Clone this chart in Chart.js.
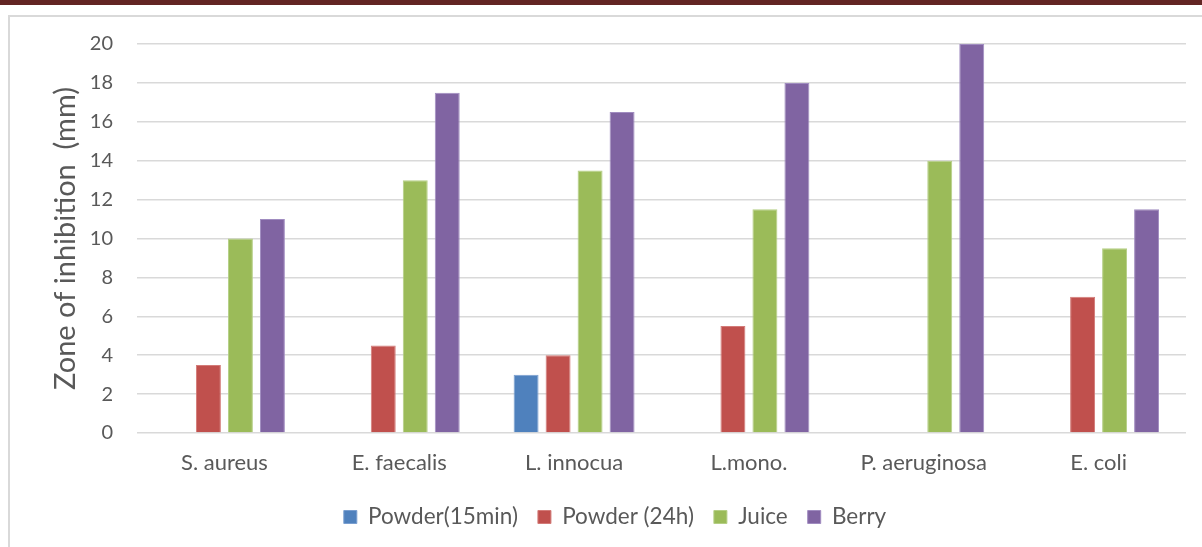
<!DOCTYPE html>
<html>
<head>
<meta charset="utf-8">
<script src="https://cdn.jsdelivr.net/npm/chart.js@4"></script>
<style>
  html, body { margin: 0; padding: 0; background: #ffffff; }
  body { width: 1202px; height: 547px; position: relative; overflow: hidden; }
  #band { position: absolute; left: 0; top: 0; width: 1202px; height: 5px; background: #632523; }
  #frame { position: absolute; left: 8px; top: 15px; width: 1194px; height: 532px;
           border-left: 2px solid #d9d9d9; border-top: 2px solid #d9d9d9; box-sizing: border-box; }
  #wrap { position: absolute; left: 10px; top: 17px; width: 1192px; height: 530px; }
</style>
</head>
<body>
<div id="band"></div>
<div id="frame"></div>
<div id="wrap"><canvas id="c"></canvas></div>
<script>
// Bacterial strains tested
const categories = ['S. aureus', 'E. faecalis', 'L. innocua', 'L.mono.', 'P. aeruginosa', 'E. coli'];

// Zone of inhibition (mm) per treatment; null = no zone observed
const powder15min = [null, null, 3, null, null, null];
const powder24h   = [3.5, 4.5, 4, 5.5, null, 7];
const juice       = [10, 13, 13.5, 11.5, 14, 9.5];
const berry       = [11, 17.5, 16.5, 18, 20, 11.5];

const seriesNames = ['Powder(15min)', 'Powder (24h)', 'Juice', 'Berry'];
const yTicks = [0, 2, 4, 6, 8, 10, 12, 14, 16, 18, 20];

const fills   = ['#4f81bd', '#c0504d', '#9bbb59', '#8064a2'];
const borders = ['#7a9fd0', '#d37b78', '#b5cf85', '#a08cc0'];
const FONT = 'Lato, "Open Sans", sans-serif';
const TXT = '#595959';

const seriesData = [powder15min, powder24h, juice, berry];

new Chart(document.getElementById('c'), {
  type: 'bar',
  data: {
    labels: categories,
    datasets: seriesData.map((d, i) => ({
      label: seriesNames[i],
      data: d,
      backgroundColor: fills[i],
      borderColor: borders[i],
      borderWidth: 1,
      categoryPercentage: 0.732,
      barPercentage: 0.78
    }))
  },
  options: {
    responsive: true,
    maintainAspectRatio: false,
    animation: false,
    layout: { padding: { top: 27, right: 16, bottom: 8.75, left: 34 } },
    plugins: {
      tooltip: { enabled: false },
      legend: {
        position: 'bottom',
        labels: {
          color: TXT,
          font: { family: FONT, size: 22.5 },
          boxWidth: 13,
          boxHeight: 13,
          padding: 20
        }
      }
    },
    scales: {
      x: {
        grid: { display: false, drawTicks: false },
        border: { display: false },
        ticks: { color: TXT, font: { family: FONT, size: 22 }, padding: 17 },
        afterFit: (s) => { s.height = 52.75; }
      },
      y: {
        min: 0,
        max: 20,
        afterBuildTicks: (scale) => { scale.ticks = yTicks.map(v => ({ value: v })); },
        afterFit: (s) => { s.width = 93; s.paddingTop = 0; s.paddingBottom = 0; },
        grid: { color: '#d9d9d9', lineWidth: 1.5, drawTicks: false, tickLength: 0 },
        border: { display: false },
        ticks: { color: TXT, font: { family: FONT, size: 20 }, padding: 24 },
        title: {
          display: true,
          text: 'Zone of inhibition  (mm)',
          color: TXT,
          font: { family: FONT, size: 29 },
          padding: { top: 4, bottom: 8 }
        }
      }
    }
  }
});
</script>
</body>
</html>
